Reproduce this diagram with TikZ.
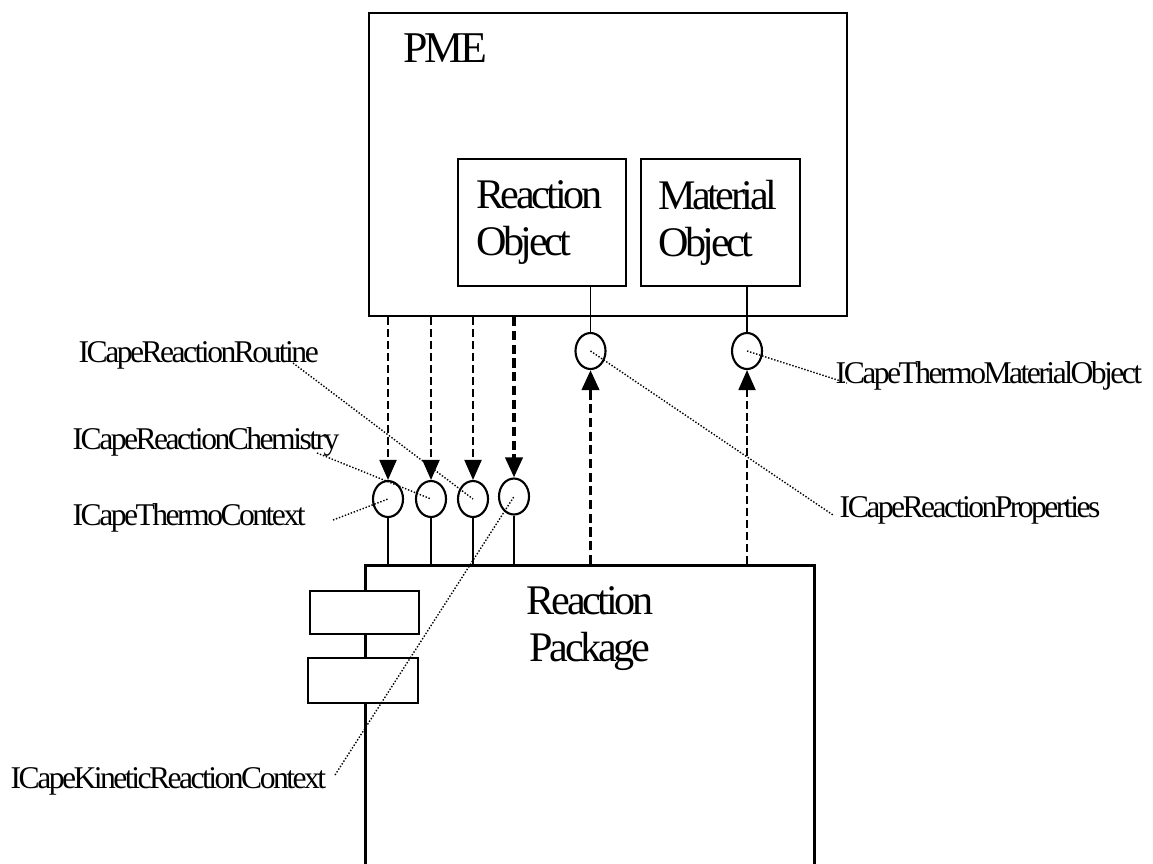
\documentclass[tikz,border=0pt]{standalone}
\usepackage{fontspec}
\setmainfont{Liberation Serif}[LetterSpace=-8]
\usetikzlibrary{arrows.meta,positioning,shapes.geometric}

\begin{document}
\begin{tikzpicture}[
  box/.style={draw, line width=0.75pt, rectangle, inner sep=0pt},
  port/.style={draw, ellipse, line width=0.6pt, minimum width=0.30cm, minimum height=0.36cm, inner sep=0pt},
  lbl/.style={inner sep=0pt, font=\fontsize{9}{11}\selectfont},
  big/.style={inner sep=0pt, font=\fontsize{12}{13.4}\selectfont},
  stem/.style={line width=0.55pt},
  thindash/.style={line width=0.55pt, dash pattern=on 2.3pt off 1.1pt, -{Triangle[length=0.2cm,width=0.17cm]}},
  thickdash/.style={line width=1.1pt, dash pattern=on 2.6pt off 1.3pt, -{Triangle[length=0.2cm,width=0.17cm]}},
  lead/.style={line width=0.4pt, dash pattern=on 0.4pt off 0.5pt}
]
\clip (0,0) rectangle (11.53,-8.63);

% environment and its two objects
\node[box, minimum width=4.78cm, minimum height=3.03cm] (pme) at (6.08,-1.645) {};
\node[big, font=\fontsize{12.5}{14}\selectfont, anchor=base west] (pmetxt) at (4.03,-0.62) {PME};
\node[box, big, minimum width=1.68cm, minimum height=1.27cm, text width=1.32cm, align=left] (robj) at (5.42,-2.225) {Reaction\\Object};
\node[box, big, minimum width=1.59cm, minimum height=1.27cm, text width=1.25cm, align=left] (mobj) at (7.205,-2.225) {Material\\Object};

% the package, cut off by the page
\node[box, minimum width=4.49cm, minimum height=3.4cm, anchor=north west] (pkg) at (3.64,-5.64) {};
\node[big, align=center, anchor=north] (pkgtxt) at (5.90,-5.86) {Reaction\\Package};
\node[box, fill=white, minimum width=1.09cm, minimum height=0.43cm] (ctx1) at (3.645,-6.125) {};
\node[box, fill=white, minimum width=1.10cm, minimum height=0.45cm] (ctx2) at (3.63,-6.805) {};

% interface lollipops
\foreach \n/\x in {1/3.88, 2/4.31, 3/4.73}{
  \node[port] (p\n) at (\x,-4.99) {};
}
\node[port] (p4) at (5.14,-4.965) {};
\node[port] (q1) at (5.905,-3.51) {};
\node[port] (q2) at (7.47,-3.51) {};

\foreach \n in {1,...,4}{
  \draw[stem] (p\n.south) -- (p\n.south |- pkg.north);
}
\draw[stem] (q1.north |- robj.south) -- (q1.north);
\draw[stem] (q2.north |- mobj.south) -- (q2.north);

% uses
\foreach \n in {1,2,3}{
  \draw[thindash] (p\n.north |- pme.south) -- (p\n.north);
}
\draw[thickdash] (p4.north |- pme.south) -- (p4.north);
\draw[thickdash] (q1.south |- pkg.north) -- (q1.south);
\draw[thindash] (q2.south |- pkg.north) -- (q2.south);

% interface names
\node[lbl, anchor=base west] (iRoutine) at (0.78,-3.62) {ICapeReactionRoutine};
\node[lbl, anchor=base west] (iChem) at (0.72,-4.49) {ICapeReactionChemistry};
\node[lbl, anchor=base west] (iThermo) at (0.72,-5.25) {ICapeThermoContext};
\node[lbl, anchor=base west] (iKinetic) at (0.10,-7.88) {ICapeKineticReactionContext};
\node[lbl, anchor=base west] (iProps) at (8.39,-5.17) {ICapeReactionProperties};
\node[lbl, anchor=base west] (iMat) at (8.35,-3.83) {ICapeThermoMaterialObject};

\coordinate (cRoutine) at (2.93,-3.63);
\coordinate (cChem) at (3.17,-4.53);
\coordinate (cThermo) at (3.33,-5.20);
\coordinate (cKinetic) at (3.35,-7.75);
\coordinate (cProps) at (8.33,-5.15);
\coordinate (cMat) at (8.47,-3.83);

\draw[lead] (cRoutine) -- (p3.center);
\draw[lead] (cChem) -- (p2.center);
\draw[lead] (cThermo) -- (p1.center);
\draw[lead] (cKinetic) -- (p4.center);
\draw[lead] (q1.center) -- (cProps);
\draw[lead] (q2.center) -- (cMat);

\end{tikzpicture}
\end{document}
